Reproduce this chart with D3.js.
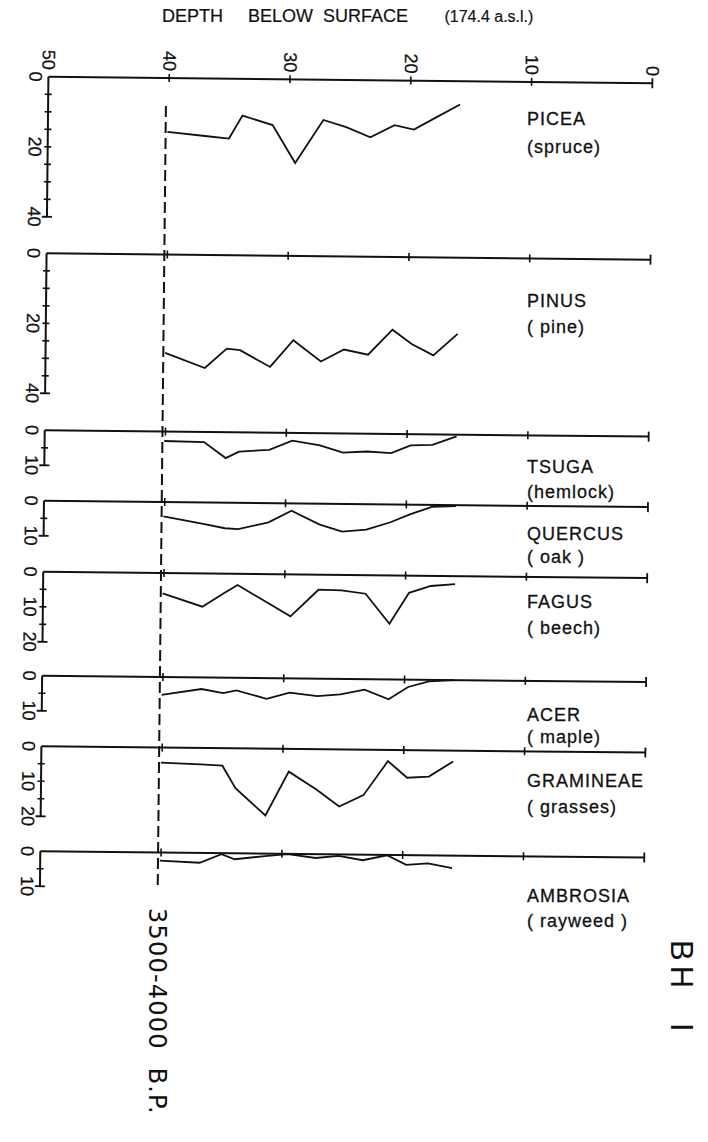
<!DOCTYPE html>
<html><head><meta charset="utf-8">
<script src="https://cdn.jsdelivr.net/npm/d3@7/dist/d3.min.js"></script>
<style>html,body{margin:0;padding:0;background:#fff;} svg{display:block;}</style>
</head><body>
<svg id="chart" width="708" height="1142"></svg>
<script>
// ---- data ----
const titleWords = ["DEPTH", "BELOW", "SURFACE", "(174.4 a.s.l.)"];
const depthTicks = [50, 40, 30, 20, 10, 0];
const sampleDepths = [40.1, 36.8, 35.0, 33.9, 31.4, 29.5, 27.2, 25.3, 23.3, 21.3, 19.7, 17.9, 15.9];
const taxa = ["PICEA", "PINUS", "TSUGA", "QUERCUS", "FAGUS", "ACER", "GRAMINEAE", "AMBROSIA"];
const commonNames = ["(spruce)", "( pine)", "(hemlock)", "( oak )", "( beech)", "( maple)", "( grasses)", "( rayweed )"];
const picea     = [15.4, 16.5, 17.1, 10.5, 13.1, 23.9, 11.5, 13.5, 16.3, 12.8, 14.0, 10.5, 6.7];
const pinus     = [28.1, 32.3, 26.7, 27.1, 31.8, 24.1, 30.1, 26.6, 28.0, 20.8, 24.8, 28.0, 21.8];
const tsuga     = [2.7, 2.9, 7.4, 5.5, 4.9, 2.2, 3.5, 5.5, 5.1, 5.5, 3.2, 3.0, 0.5];
const quercus   = [4.1, 6.1, 7.3, 7.5, 5.5, 2.1, 5.9, 7.9, 7.3, 5.1, 2.8, 0.6, 0.3];
const fagus     = [5.8, 9.5, 5.5, 3.2, 8.2, 12.0, 4.3, 4.4, 5.3, 13.8, 4.9, 2.9, 2.3];
const acer      = [5.1, 3.3, 4.4, 3.6, 5.9, 4.1, 5.0, 4.4, 3.0, 5.7, 2.1, 0.4, 0.0];
const gramineae = [4.3, 4.7, 5.0, 11.4, 19.1, 6.5, 11.5, 16.3, 13.0, 3.2, 7.9, 7.5, 3.1];
const ambrosia  = [2.3, 2.8, 0.3, 1.7, 0.7, 0.1, 1.1, 0.4, 1.6, 0.1, 2.8, 2.3, 3.6];
const series = [picea, pinus, tsuga, quercus, fagus, acer, gramineae, ambrosia];
const percentMax = [40, 40, 10, 10, 20, 10, 20, 10];
const percentTickLabels = [[0, 20, 40], [0, 20, 40], [0, 10], [0, 10], [0, 10, 20], [0, 10], [0, 10, 20], [0, 10]];
const horizonDepth = 40.25;
const horizonText = ["3500-4000", "B.P."];
const siteText = ["BH", "I"];

// ---- layout ----
const baselines = [80, 256.5, 433.5, 504, 575, 679, 749.5, 854.5];
const nameBaseY = [125, 306.5, 472.5, 540, 608, 720.5, 786.5, 901.5];
const commonBaseY = [152.5, 333, 498, 563, 634, 743, 813, 926.5];
const titleX = [162, 243, 318, 440];
const pxPerPercent = 3.5;
const ink = "#111";
const numFont = "'Liberation Sans', Arial, sans-serif";

const svg = d3.select("#chart");
svg.append("rect").attr("width", 708).attr("height", 1142).attr("fill", "#fff");

// title
const title = svg.append("text").attr("y", 22).attr("font-family", numFont)
  .attr("font-size", 18).attr("fill", ink).attr("stroke", ink).attr("stroke-width", 0.2);
titleWords.forEach((w, i) => title.append("tspan").attr("x", titleX[i])
  .attr("font-size", i === 3 ? 16 : 18).text((i ? " " : "") + w));

const root = svg.append("g").attr("transform", "rotate(0.6 350 500)");
const x = d3.scaleLinear().domain([50, 0]).range([44, 648]);

series.forEach((vals, i) => {
  const b = baselines[i];
  const y = d3.scaleLinear().domain([0, percentMax[i]]).range([b, b + percentMax[i] * pxPerPercent]);
  const g = root.append("g").attr("stroke", ink).attr("fill", "none");
  // depth baseline
  g.append("line").attr("x1", x(50)).attr("x2", x(0)).attr("y1", b).attr("y2", b).attr("stroke-width", 2);
  g.selectAll("line.dt").data(depthTicks.filter(d => d !== 50 && d !== 0)).join("line").attr("class", "dt")
    .attr("x1", d => x(d)).attr("x2", d => x(d)).attr("y1", b - 4).attr("y2", b + 4).attr("stroke-width", 1.6);
  g.append("line").attr("x1", x(0)).attr("x2", x(0)).attr("y1", b - 5).attr("y2", b + 5).attr("stroke-width", 1.8);
  // percent axis
  g.append("line").attr("x1", x(50)).attr("x2", x(50)).attr("y1", y(0)).attr("y2", y(percentMax[i])).attr("stroke-width", 2);
  g.selectAll("line.pt").data(d3.range(5, percentMax[i], 5)).join("line").attr("class", "pt")
    .attr("x1", x(50) - 3.5).attr("x2", x(50) + 3.5).attr("y1", d => y(d)).attr("y2", d => y(d)).attr("stroke-width", 1.6);
  g.append("line").attr("x1", x(50) - 5).attr("x2", x(50) + 5).attr("y1", y(percentMax[i])).attr("y2", y(percentMax[i])).attr("stroke-width", 1.8);
  // percent labels
  root.selectAll(null).data(percentTickLabels[i]).join("text")
    .attr("transform", d => `translate(${x(50) - 13},${y(d)}) rotate(90)`)
    .attr("text-anchor", "middle").attr("dominant-baseline", "central")
    .attr("font-family", numFont).attr("font-size", 18).attr("fill", ink)
    .attr("stroke", ink).attr("stroke-width", 0.25)
    .text(d => d);
  // curve
  const line = d3.line().x((d, j) => x(sampleDepths[j])).y(d => y(d));
  g.append("path").datum(vals).attr("d", line).attr("stroke-width", 1.8).attr("stroke-linejoin", "miter");
});

// depth tick labels (top)
root.selectAll("text.dl").data(depthTicks).join("text").attr("class", "dl")
  .attr("transform", d => `translate(${x(d)},${baselines[0] - 7}) rotate(90)`)
  .attr("text-anchor", "end").attr("dominant-baseline", "central")
  .attr("font-family", numFont).attr("font-size", 18).attr("fill", ink)
  .attr("stroke", ink).attr("stroke-width", 0.25)
  .text(d => d);

// horizon dashed line
root.append("line").attr("x1", x(horizonDepth)).attr("x2", x(horizonDepth))
  .attr("y1", 108).attr("y2", 890).attr("stroke", ink).attr("stroke-width", 2)
  .attr("stroke-dasharray", "11,5");

// taxon labels
svg.selectAll("text.tx").data(taxa).join("text").attr("class", "tx")
  .attr("x", 527).attr("y", (d, i) => nameBaseY[i])
  .attr("font-family", numFont).attr("font-size", 18).attr("letter-spacing", 1).attr("fill", ink)
  .attr("stroke", ink).attr("stroke-width", 0.3).text(d => d);
svg.selectAll("text.cn").data(commonNames).join("text").attr("class", "cn")
  .attr("x", 527).attr("y", (d, i) => commonBaseY[i])
  .attr("font-family", numFont).attr("font-size", 18).attr("letter-spacing", 1).attr("fill", ink)
  .attr("stroke", ink).attr("stroke-width", 0.3)
  .style("white-space", "pre").text(d => d);

// horizon label
const hz = svg.append("text").attr("transform", "translate(156.5,908) rotate(90)")
  .attr("dominant-baseline", "central").attr("font-family", "'DejaVu Sans', sans-serif")
  .attr("font-size", 24).attr("letter-spacing", 1.2).attr("fill", ink);
hz.append("tspan").text(horizonText[0]);
hz.append("tspan").attr("dx", 18).text(horizonText[1]);

// site label
const st = svg.append("text").attr("transform", "translate(681.5,940) rotate(90)")
  .attr("dominant-baseline", "central").attr("font-family", numFont)
  .attr("font-size", 31).attr("letter-spacing", 5).attr("fill", ink);
st.append("tspan").text(siteText[0]);
st.append("tspan").attr("dx", 30).text(siteText[1]);
</script>
</body></html>
